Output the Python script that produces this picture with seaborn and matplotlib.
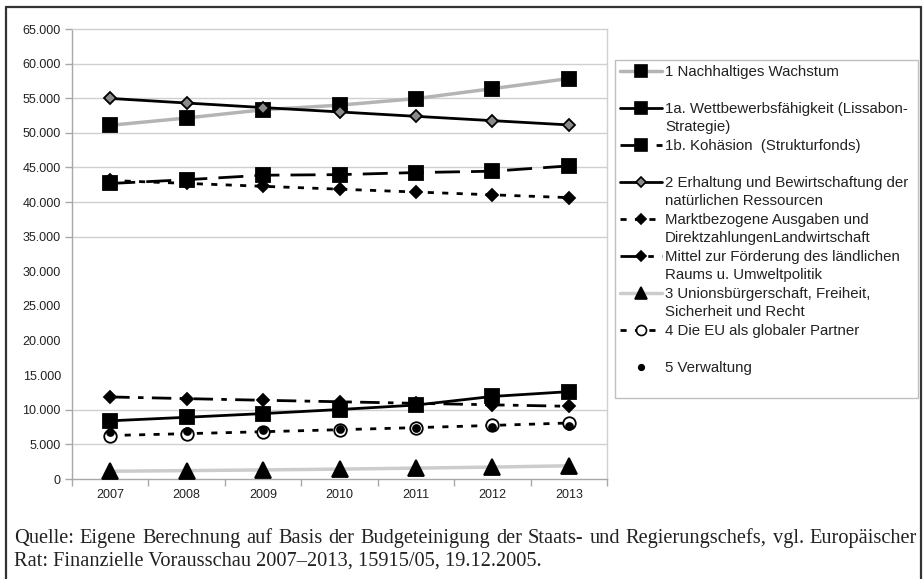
import matplotlib
matplotlib.use("Agg")
import matplotlib.pyplot as plt
from matplotlib.lines import Line2D
import seaborn as sns
import numpy as np

years = ["2007", "2008", "2009", "2010", "2011", "2012", "2013"]

nachhaltiges = [51090, 52148, 53330, 54001, 54945, 56384, 57841]
wettbewerb = [8404, 8916, 9450, 10037, 10681, 11925, 12616]
kohaesion = [42686, 43232, 43880, 43964, 44264, 44459, 45225]
erhaltung = [54972, 54308, 53652, 53021, 52386, 51761, 51145]
markt = [43120, 42697, 42279, 41864, 41453, 41047, 40645]
laendlich = [11852, 11611, 11373, 11157, 10933, 10714, 10500]
union = [1120, 1210, 1310, 1430, 1570, 1720, 1910]
partner = [6280, 6550, 6830, 7120, 7420, 7740, 8090]
verwaltung = [6720, 6900, 7050, 7180, 7320, 7450, 7680]

labels = [
    "1 Nachhaltiges Wachstum",
    "1a. Wettbewerbsfähigkeit (Lissabon-\nStrategie)",
    "1b. Kohäsion  (Strukturfonds)",
    "2 Erhaltung und Bewirtschaftung der\nnatürlichen Ressourcen",
    "Marktbezogene Ausgaben und\nDirektzahlungenLandwirtschaft",
    "Mittel zur Förderung des ländlichen\nRaums u. Umweltpolitik",
    "3 Unionsbürgerschaft, Freiheit,\nSicherheit und Recht",
    "4 Die EU als globaler Partner",
    "5 Verwaltung",
]

yticks = list(range(0, 65001, 5000))
grid_values = [5000, 10000, 35000, 40000, 45000, 50000, 55000, 60000]

caption1 = ("Quelle: Eigene Berechnung auf Basis der Budgeteinigung der Staats- und "
            "Regierungschefs, vgl. Europäischer")
caption2 = "Rat: Finanzielle Vorausschau 2007–2013, 15915/05, 19.12.2005."

sns.set_style("white")
plt.rcParams["font.family"] = ["Liberation Sans", "DejaVu Sans"]
plt.rcParams["axes.grid"] = False

W, H = 924, 579
fig = plt.figure(figsize=(W / 100, H / 100), dpi=100)
ax = fig.add_axes([72 / W, (H - 479) / H, 535 / W, 450 / H])

x = np.arange(len(years))

styles = [
    dict(data=nachhaltiges, color="#b4b4b4", lw=2.5, ls="-", marker="s", ms=10.5, mfc="black", mec="black"),
    dict(data=wettbewerb, color="black", lw=2, ls="-", marker="s", ms=10.5, mfc="black", mec="black"),
    dict(data=kohaesion, color="black", lw=2, ls=(0, (9, 4)), marker="s", ms=10.5, mfc="black", mec="black"),
    dict(data=erhaltung, color="black", lw=2, ls="-", marker="D", ms=6, mfc="#8a8a8a", mec="black"),
    dict(data=markt, color="black", lw=2, ls=(0, (2.2, 3)), marker="D", ms=6.5, mfc="black", mec="black"),
    dict(data=laendlich, color="black", lw=2, ls=(0, (7, 3, 2, 3)), marker="D", ms=6.5, mfc="black", mec="black"),
    dict(data=union, color="#cccccc", lw=2.5, ls="-", marker="^", ms=11.5, mfc="black", mec="black"),
    dict(data=partner, color="black", lw=2, ls=(0, (2.2, 3)), marker="o", ms=9, mfc="white", mec="black"),
    dict(data=verwaltung, color="black", lw=0, ls="None", marker="o", ms=5, mfc="black", mec="black"),
]

handles = []
for st in styles:
    sns.lineplot(x=x, y=st["data"], ax=ax, color=st["color"], linewidth=st["lw"],
                 linestyle=st["ls"], marker=st["marker"], markersize=st["ms"],
                 markerfacecolor=st["mfc"], markeredgecolor=st["mec"],
                 markeredgewidth=1.3, zorder=3)
    handles.append(Line2D([], [], color=st["color"], linewidth=st["lw"] if st["lw"] else 0,
                          linestyle=st["ls"], marker=st["marker"],
                          markersize=st["ms"] * 0.8, markerfacecolor=st["mfc"],
                          markeredgecolor=st["mec"], markeredgewidth=1.2))

ax.set_xlim(-0.5, len(years) - 0.5)
ax.set_ylim(0, 65000)
ax.set_xticks(x)
ax.set_xticklabels(years)
ax.set_xticks(np.arange(-0.5, len(years), 1.0), minor=True)
ax.set_yticks(yticks)
ax.set_yticklabels([f"{v:,.0f}".replace(",", ".") for v in yticks])

ax.tick_params(axis="x", which="major", bottom=False, length=0, labelsize=9, pad=7, colors="#222222")
ax.tick_params(axis="x", which="minor", bottom=True, length=5, color="#a8a8a8", width=1, direction="out")
ax.tick_params(axis="y", left=True, length=5, color="#a8a8a8", width=1, labelsize=9, pad=3,
               labelcolor="#222222")
ax.grid(False)
for t, v in zip(ax.yaxis.get_major_ticks(), yticks):
    if 15000 <= v <= 30000:
        t.tick1line.set_visible(False)
for gv in grid_values:
    ax.axhline(gv, color="#d0d0d0", lw=1, zorder=1)

for side in ["top", "right"]:
    ax.spines[side].set_color("#d0d0d0")
    ax.spines[side].set_linewidth(1)
for side in ["left", "bottom"]:
    ax.spines[side].set_color("#a8a8a8")
    ax.spines[side].set_linewidth(1)
ax.set_xlabel("")
ax.set_ylabel("")

# legend: one row per visual line
leg_handles, leg_labels = [], []
blank = Line2D([], [], linestyle="None", marker=None)
for h, lab in zip(handles, labels):
    parts = lab.split("\n")
    leg_handles.append(h)
    leg_labels.append(parts[0])
    leg_handles.append(blank)
    leg_labels.append(parts[1] if len(parts) > 1 else " ")

leg = fig.legend(leg_handles, leg_labels, loc="upper left",
                 bbox_to_anchor=(615 / W, (H - 60) / H, 303 / W, 0.0),
                 mode="expand", borderaxespad=0, fontsize=10.8, frameon=True,
                 fancybox=False, edgecolor="#c0c0c0", framealpha=1,
                 handlelength=2.8, handletextpad=0.2, labelspacing=0.3,
                 borderpad=0.33)
leg.get_frame().set_linewidth(1)
for t in leg.get_texts():
    t.set_color("#222222")

# outer frame
fc = "#333333"
fig.add_artist(Line2D([6 / W, 6 / W], [0, 1 - 7 / H], transform=fig.transFigure, color=fc, lw=1.6))
fig.add_artist(Line2D([6 / W, 921 / W], [1 - 7 / H, 1 - 7 / H], transform=fig.transFigure, color=fc, lw=1.6))
fig.add_artist(Line2D([921 / W, 921 / W], [0, 1 - 7 / H], transform=fig.transFigure, color=fc, lw=1.6))

# caption, first line justified
cap_font = dict(family=["Liberation Serif", "DejaVu Serif"], size=14.7, color="#222222")
renderer = fig.canvas.get_renderer()
words = caption1.split(" ")
x0, x1 = 14, 917
widths = []
tmp = []
for wd in words:
    t = fig.text(0, 0, wd, **cap_font)
    widths.append(t.get_window_extent(renderer).width)
    tmp.append(t)
for t in tmp:
    t.remove()
gap = (x1 - x0 - sum(widths)) / (len(words) - 1)
cx = x0
y1 = 1 - 543 / H
for wd, wdt in zip(words, widths):
    fig.text(cx / W, y1, wd, ha="left", va="baseline", **cap_font)
    cx += wdt + gap
fig.text(x0 / W, 1 - 566 / H, caption2, ha="left", va="baseline", **cap_font)

fig.savefig("out.png", dpi=100)
